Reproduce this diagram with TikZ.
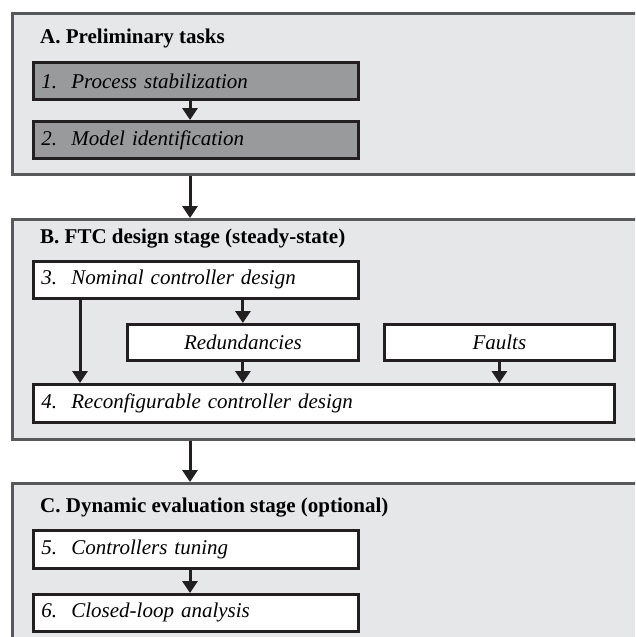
\documentclass[tikz,border=0pt]{standalone}
\usepackage{fontspec}
\setmainfont{Liberation Serif}
\usetikzlibrary{arrows.meta,positioning}
\definecolor{panelfill}{HTML}{E6E7E9}
\definecolor{panelline}{HTML}{58595B}
\definecolor{taskgray}{HTML}{999A9C}
\definecolor{ink}{HTML}{231F20}

\begin{document}
\begin{tikzpicture}[x=1pt,y=-1pt,
  panel/.style={draw=panelline, line width=3pt, fill=panelfill, anchor=north west, inner sep=0pt, minimum width=634pt},
  title/.style={anchor=base west, inner sep=0pt, font=\fontsize{21}{24}\selectfont\bfseries},
  task/.style={draw=ink, line width=2.8pt, fill=white, anchor=north west, inner sep=0pt, inner xsep=8pt,
    text width=309pt, align=left, font=\fontsize{21}{24}\selectfont\itshape},
  wide/.style={task, text width=565pt},
  item/.style={task, text width=#1, inner xsep=0pt, align=center},
  flow/.style={draw=ink, line width=3pt, -{Triangle[width=15pt,length=12pt]}}]

\clip (0,0) rectangle (635,637);
\fill[white] (0,0) rectangle (635,637);

% panels
\node[panel, minimum height=161pt] (pa) at (11,12) {};
\node[panel, minimum height=220pt] (pb) at (11,218) {};
\node[panel, minimum height=190pt] (pc) at (11,482) {};

\node[title] (ta) at (40,43) {A. Preliminary tasks};
\node[title] (tb) at (40,243) {B. FTC design stage (steady-state)};
\node[title] (tc) at (40,512) {C. Dynamic evaluation stage (optional)};

% tasks
\node[task, fill=taskgray, minimum height=37pt] (t1) at (32,61) {\makebox[30pt][l]{1.}Process stabilization};
\node[task, fill=taskgray, minimum height=37pt] (t2) at (32,120) {\makebox[30pt][l]{2.}Model identification};
\node[task, minimum height=37pt] (t3) at (32,260) {\makebox[30pt][l]{3.}Nominal controller design};
\node[item=231pt, minimum height=36pt] (red) at (126,323) {Redundancies};
\node[item=230pt, minimum height=36pt] (flt) at (383,323) {Faults};
\node[wide, minimum height=38pt] (t4) at (32,383) {\makebox[30pt][l]{4.}Reconfigurable controller design};
\node[task, minimum height=38pt] (t5) at (32,529) {\makebox[30pt][l]{5.}Controllers tuning};
\node[task, minimum height=37pt] (t6) at (32,593) {\makebox[30pt][l]{6.}Closed-loop analysis};

\coordinate (mid) at (190,0);
\coordinate (lft) at (80,0);

% arrows
\draw[flow] (t1.south -| mid) -- (t2.north -| mid);
\draw[flow] (pa.south -| mid) -- (pb.north -| mid);
\draw[flow] (t3.south -| lft) -- (t4.north -| lft);
\draw[flow] (t3.south -| red.north) -- (red.north);
\draw[flow] (red.south) -- (t4.north -| red.south);
\draw[flow] (flt.south) -- (t4.north -| flt.south);
\draw[flow] (pb.south -| mid) -- (pc.north -| mid);
\draw[flow] (t5.south -| mid) -- (t6.north -| mid);

\end{tikzpicture}
\end{document}
